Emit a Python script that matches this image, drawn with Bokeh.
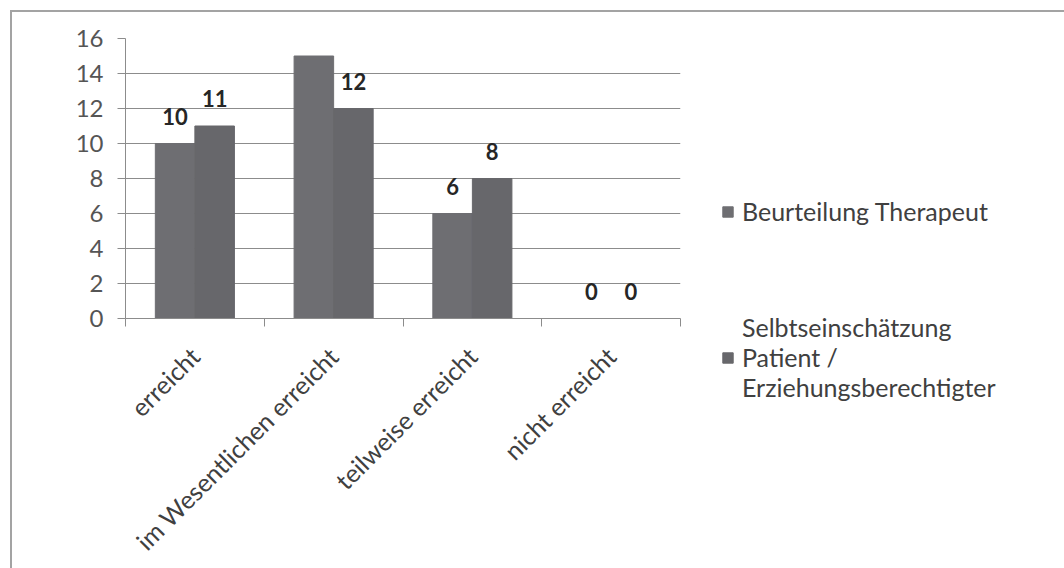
from bokeh.plotting import figure
from bokeh.models import (ColumnDataSource, FixedTicker, LabelSet, Legend, LegendItem,
                          Range1d)
from bokeh.core.properties import value
from bokeh.embed import file_html
from bokeh.resources import INLINE

categories = ["erreicht", "im Wesentlichen erreicht", "teilweise erreicht", "nicht erreicht"]
therapeut = [10, 15, 6, 0]
selbst = [11, 12, 8, 0]
series_names = ["Beurteilung Therapeut",
                "Selbtseinschätzung\nPatient /\nErziehungsberechtigter"]
series_colors = ["#6e6e72", "#67676b"]
y_ticks = [0, 2, 4, 6, 8, 10, 12, 14, 16]

FONT = "Lato"
AXIS_GREY = "#8c8c8c"
BAR_W = 0.285
n = len(categories)
centers = [i + 0.5 for i in range(n)]

src_a = ColumnDataSource(dict(x=[c - BAR_W / 2 for c in centers], v=therapeut,
                              t=[str(v) for v in therapeut]))
src_b = ColumnDataSource(dict(x=[c + BAR_W / 2 for c in centers], v=selbst,
                              t=[str(v) for v in selbst]))

p = figure(frame_width=555, frame_height=280, output_backend="svg",
           toolbar_location=None, title=None,
           x_range=Range1d(0, n), y_range=Range1d(0, 16),
           min_border_left=113, min_border_right=0, min_border_top=26,
           min_border_bottom=250,
           styles={"margin-left": "10px", "margin-top": "10px",
                   "border-left": "2px solid #a3a3a3", "border-top": "2px solid #a3a3a3"})
p.outline_line_color = None
p.border_fill_color = "white"

bars = []
for s, col in zip((src_a, src_b), series_colors):
    bars.append(p.vbar(x="x", top="v", width=BAR_W, source=s,
                       fill_color=col, line_color=col))
    p.add_layout(LabelSet(x="x", y="v", text="t", source=s, y_offset=19,
                          text_align="center", text_baseline="bottom",
                          text_font=value(FONT), text_font_style="bold",
                          text_font_size="22px", text_color="#262626"))

# y axis
p.yaxis.ticker = FixedTicker(ticks=y_ticks)
p.yaxis.axis_line_color = AXIS_GREY
p.yaxis.major_tick_line_color = AXIS_GREY
p.yaxis.major_tick_out = 8
p.yaxis.major_tick_in = 0
p.yaxis.minor_tick_line_color = None
p.yaxis.major_label_text_font = FONT
p.yaxis.major_label_text_font_size = "24px"
p.yaxis.major_label_text_color = "#555555"
p.yaxis.major_label_standoff = 14

# x axis: category names centred between boundary ticks
p.xaxis.ticker = FixedTicker(ticks=centers, minor_ticks=list(range(n + 1)))
p.xaxis.major_label_overrides = {c: name for c, name in zip(centers, categories)}
p.xaxis.major_tick_line_color = None
p.xaxis.minor_tick_line_color = AXIS_GREY
p.xaxis.minor_tick_out = 8
p.xaxis.minor_tick_in = 0
p.xaxis.axis_line_color = AXIS_GREY
p.xaxis.major_label_orientation = 0.785398
p.xaxis.major_label_text_font = FONT
p.xaxis.major_label_text_font_size = "25px"
p.xaxis.major_label_text_color = "#404040"
p.xaxis.major_label_standoff = 25

p.xgrid.grid_line_color = None
p.ygrid.grid_line_color = AXIS_GREY
p.ygrid.grid_line_width = 1

legend = Legend(items=[LegendItem(label=name, renderers=[r])
                       for name, r in zip(series_names, bars)],
                location=(41, -84), spacing=86, margin=0, padding=0,
                glyph_width=13, glyph_height=13, label_standoff=8,
                label_text_font=FONT, label_text_font_size="25px",
                label_text_color="#404040", label_text_line_height=1.3,
                border_line_color=None, background_fill_alpha=0)
p.add_layout(legend, "right")

open("out.html", "w").write(file_html(p, INLINE))
